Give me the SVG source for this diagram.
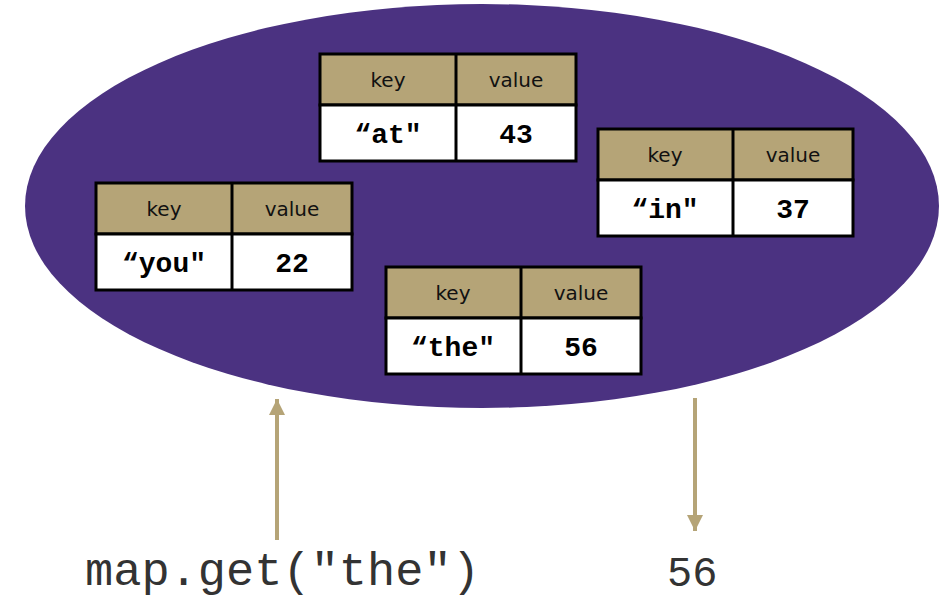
<svg xmlns="http://www.w3.org/2000/svg" width="948" height="601" viewBox="0 0 948 601">
<style>
.hdr{fill:#b5a477;stroke:#000;stroke-width:3}
.cell{fill:#fff;stroke:#000;stroke-width:3}
.ln{stroke:#000;stroke-width:3}
.h{font-family:"DejaVu Sans","Lato",sans-serif;font-size:20px;fill:#111;text-anchor:middle}
.v{font-family:"Liberation Mono","Courier New",monospace;font-weight:bold;font-size:28px;fill:#000;text-anchor:middle}
.code{font-family:"Liberation Mono","Courier New",monospace;fill:#333}
.arr{stroke:#b5a477;stroke-width:4;fill:none}
</style>
<defs>
<marker id="ah" viewBox="0 0 10 10" refX="10" refY="5" markerWidth="4" markerHeight="4" orient="auto" markerUnits="strokeWidth">
<path d="M0,0 L10,5 L0,10 z" fill="#b5a477"/>
</marker>
</defs>
<ellipse cx="482" cy="206" rx="457" ry="202" fill="#4b3281"/>
<g id="node-at">
<rect class="hdr" x="320" y="54" width="256" height="51"/>
<rect class="cell" x="320" y="105" width="256" height="56"/>
<line class="ln" x1="456" y1="54" x2="456" y2="161"/>
<text class="h" x="388" y="87">key</text>
<text class="h" x="516" y="87">value</text>
<text class="v" x="388" y="143">“at"</text>
<text class="v" x="516" y="143">43</text>
</g>
<g id="node-in">
<rect class="hdr" x="598" y="129" width="255" height="51"/>
<rect class="cell" x="598" y="180" width="255" height="56"/>
<line class="ln" x1="733" y1="129" x2="733" y2="236"/>
<text class="h" x="665" y="162">key</text>
<text class="h" x="793" y="162">value</text>
<text class="v" x="665" y="218">“in"</text>
<text class="v" x="793" y="218">37</text>
</g>
<g id="node-you">
<rect class="hdr" x="96" y="183" width="256" height="51"/>
<rect class="cell" x="96" y="234" width="256" height="56"/>
<line class="ln" x1="232" y1="183" x2="232" y2="290"/>
<text class="h" x="164" y="216">key</text>
<text class="h" x="292" y="216">value</text>
<text class="v" x="164" y="272">“you"</text>
<text class="v" x="292" y="272">22</text>
</g>
<g id="node-the">
<rect class="hdr" x="386" y="267" width="255" height="51"/>
<rect class="cell" x="386" y="318" width="255" height="56"/>
<line class="ln" x1="521" y1="267" x2="521" y2="374"/>
<text class="h" x="453" y="300">key</text>
<text class="h" x="581" y="300">value</text>
<text class="v" x="453" y="356">“the"</text>
<text class="v" x="581" y="356">56</text>
</g>
<g id="connectors">
<line class="arr" x1="277" y1="540" x2="277" y2="399" marker-end="url(#ah)"/>
<line class="arr" x1="695" y1="398" x2="695" y2="531" marker-end="url(#ah)"/>
</g>
<g id="label-call"><text class="code" x="85" y="585" font-size="47">map.get("the")</text></g>
<g id="label-result"><text class="code" x="667" y="586" font-size="42">56</text></g>
</svg>
